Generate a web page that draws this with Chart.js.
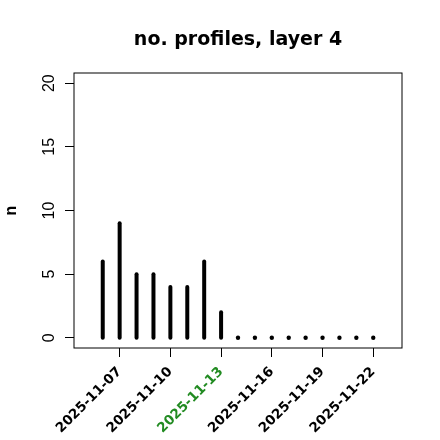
<!DOCTYPE html>
<html>
<head>
<meta charset="utf-8">
<script src="https://cdn.jsdelivr.net/npm/chart.js@4"></script>
<style>
  html, body { margin: 0; padding: 0; background: #fff; }
  canvas { display: block; }
</style>
</head>
<body>
<canvas id="chart" width="440" height="440"></canvas>
<script>
// one value per day
const days = [
    '2025-11-06', '2025-11-07', '2025-11-08', '2025-11-09', '2025-11-10',
    '2025-11-11', '2025-11-12', '2025-11-13', '2025-11-14', '2025-11-15',
    '2025-11-16', '2025-11-17', '2025-11-18', '2025-11-19', '2025-11-20',
    '2025-11-21', '2025-11-22',
];
const counts = [6, 9, 5, 5, 4, 4, 6, 2, 0, 0, 0, 0, 0, 0, 0, 0, 0];
const xTickLabels = ['2025-11-07', '2025-11-10', '2025-11-13', '2025-11-16', '2025-11-19', '2025-11-22'];
const yTicks = [0, 5, 10, 15, 20];
const highlightDay = '2025-11-13';
const chartTitle = 'no. profiles, layer 4';
const yLabel = 'n';

const AXIS_FONT = 'Liberation Sans';

// box round the plot + main title, R style
const frame = {
    id: 'frame',
    afterDraw(chart) {
        const { ctx, chartArea: a } = chart;
        ctx.save();
        ctx.strokeStyle = '#000';
        ctx.lineWidth = 1;
        ctx.strokeRect(a.left, a.top, a.right - a.left, a.bottom - a.top);
        ctx.fillStyle = '#000';
        ctx.font = 'bold 19px "DejaVu Sans"';
        ctx.textAlign = 'center';
        ctx.textBaseline = 'alphabetic';
        ctx.fillText(chartTitle, (a.left + a.right) / 2, 45);
        ctx.restore();
    },
};

// type="h": vertical stems from 0 up to each point
const stems = {
    id: 'stems',
    afterDatasetsDraw(chart) {
        const { ctx } = chart;
        const y0 = chart.scales.y.getPixelForValue(0);
        ctx.save();
        ctx.strokeStyle = '#000';
        ctx.fillStyle = '#000';
        ctx.lineWidth = 4;
        ctx.lineCap = 'round';
        chart.getDatasetMeta(0).data.forEach((pt) => {
            if (Math.abs(pt.y - y0) < 0.5) {
                ctx.beginPath();
                ctx.arc(pt.x, y0, 2.2, 0, Math.PI * 2);
                ctx.fill();
                return;
            }
            ctx.beginPath();
            ctx.moveTo(pt.x, y0);
            ctx.lineTo(pt.x, pt.y);
            ctx.stroke();
        });
        ctx.restore();
    },
};

new Chart(document.getElementById('chart'), {
    type: 'scatter',
    data: {
        datasets: [{
            data: counts.map((n, i) => ({ x: i, y: n })),
            pointRadius: 0,
            showLine: false,
        }],
    },
    options: {
        responsive: false,
        animation: false,
        layout: { padding: { top: 73, right: 38, left: 0, bottom: 0 } },
        plugins: { legend: { display: false }, tooltip: { enabled: false } },
        scales: {
            x: {
                type: 'linear',
                min: -1.7,
                max: 17.7,
                afterBuildTicks: (s) => { s.ticks = xTickLabels.map((d) => ({ value: days.indexOf(d) })); },
                afterFit: (s) => { s.height = 92; },
                grid: { drawOnChartArea: false, tickLength: 9, color: '#000', lineWidth: 1 },
                border: { display: false },
                ticks: {
                    minRotation: 45,
                    maxRotation: 45,
                    autoSkip: false,
                    padding: 7,
                    font: { family: 'DejaVu Sans', size: 13.5, weight: 'bold' },
                    color: (c) => (days[c.tick.value] === highlightDay ? '#228b22' : '#000'),
                    callback: (v) => days[v],
                },
            },
            y: {
                min: -0.8,
                max: 20.8,
                afterBuildTicks: (s) => { s.ticks = yTicks.map((v) => ({ value: v })); },
                afterFit: (s) => { s.width = 74; },
                grid: { drawOnChartArea: false, tickLength: 9, color: '#000', lineWidth: 1 },
                border: { display: false },
                ticks: {
                    minRotation: 90,
                    maxRotation: 90,
                    crossAlign: 'center',
                    padding: 7,
                    font: { family: AXIS_FONT, size: 16 },
                    color: '#000',
                },
                title: {
                    display: true,
                    text: yLabel,
                    color: '#000',
                    font: { family: AXIS_FONT, size: 16, weight: 'bold' },
                    padding: { top: 2, bottom: 0 },
                },
            },
        },
    },
    plugins: [frame, stems],
});
</script>
</body>
</html>
